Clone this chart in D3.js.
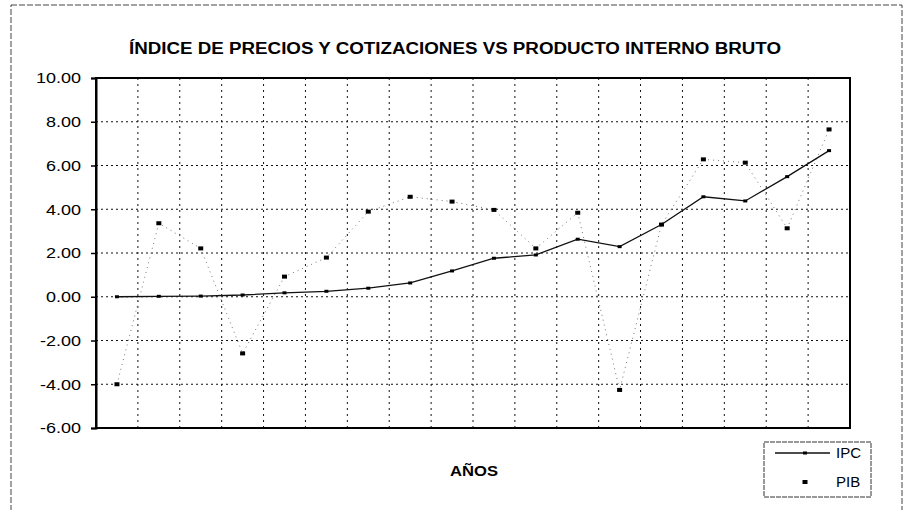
<!DOCTYPE html>
<html>
<head>
<meta charset="utf-8">
<script src="https://cdn.jsdelivr.net/npm/d3@7"></script>
<style>
  body { margin: 0; background: #fff; }
  svg { display: block; font-family: "Liberation Sans", Arial, sans-serif; }
</style>
</head>
<body>
<svg id="chart" width="908" height="510"></svg>
<script>
// 数据：18 个年度区间
const periodos = d3.range(1, 19).map(String);
const ipc = [0.00, 0.02, 0.03, 0.08, 0.18, 0.25, 0.39, 0.63, 1.18, 1.76, 1.91, 2.63, 2.29, 3.30, 4.57, 4.38, 5.49, 6.68];
const pib = [-4.00, 3.36, 2.21, -2.59, 0.92, 1.79, 3.89, 4.57, 4.35, 3.97, 2.21, 3.84, -4.26, 3.30, 6.28, 6.13, 3.13, 7.65];
const yTicks = [-6, -4, -2, 0, 2, 4, 6, 8, 10];

const svg = d3.select('#chart');
const plot = { left: 96, right: 850, top: 78, bottom: 428 };

// 外框
svg.append('rect')
  .attr('x', 11).attr('y', 5)
  .attr('width', 891).attr('height', 510)
  .attr('fill', 'none')
  .attr('stroke', '#444')
  .attr('stroke-width', 1)
  .attr('stroke-dasharray', '6,2');

const x = d3.scaleBand()
  .domain(periodos)
  .range([plot.left, plot.right])
  .padding(0);

const y = d3.scaleLinear()
  .domain([-6, 10])
  .range([plot.bottom, plot.top]);

const cx = d => x(d) + x.bandwidth() / 2;

// 横向网格线
svg.append('g')
  .selectAll('line')
  .data(yTicks.filter(t => t > -6 && t < 10))
  .enter()
  .append('line')
  .attr('x1', plot.left).attr('x2', plot.right)
  .attr('y1', d => y(d)).attr('y2', d => y(d))
  .attr('stroke', '#111')
  .attr('stroke-width', 1)
  .attr('stroke-dasharray', '2,3');

// 纵向网格线（类别边界）
svg.append('g')
  .selectAll('line')
  .data(periodos.slice(1))
  .enter()
  .append('line')
  .attr('x1', d => x(d)).attr('x2', d => x(d))
  .attr('y1', plot.top).attr('y2', plot.bottom)
  .attr('stroke', '#111')
  .attr('stroke-width', 1)
  .attr('stroke-dasharray', '2,4');

// 绘图区边框
svg.append('rect')
  .attr('x', plot.left).attr('y', plot.top)
  .attr('width', plot.right - plot.left)
  .attr('height', plot.bottom - plot.top)
  .attr('fill', 'none')
  .attr('stroke', '#000')
  .attr('stroke-width', 2);

// Y 轴
const yAxis = svg.append('g')
  .attr('transform', `translate(${plot.left},0)`)
  .call(d3.axisLeft(y).tickValues(yTicks).tickFormat(d => d.toFixed(2)).tickSize(5).tickPadding(7.5));
yAxis.select('.domain').attr('stroke-width', 2);
yAxis.selectAll('.tick line').attr('stroke-width', 1.5);
yAxis.selectAll('.tick text')
  .attr('font-size', 15)
  .attr('fill', '#000')
  .attr('transform', 'scale(1.2,1)');

// PIB：点线 + 方点
svg.append('path')
  .datum(pib)
  .attr('fill', 'none')
  .attr('stroke', '#777')
  .attr('stroke-width', 1)
  .attr('stroke-dasharray', '1,4')
  .attr('d', d3.line().x((d, i) => cx(periodos[i])).y(d => y(d)));

svg.append('g')
  .selectAll('rect')
  .data(pib)
  .enter()
  .append('rect')
  .attr('x', (d, i) => cx(periodos[i]) - 2.5)
  .attr('y', d => y(d) - 2)
  .attr('width', 5).attr('height', 4)
  .attr('fill', '#000');

// IPC：实线 + 小点
svg.append('path')
  .datum(ipc)
  .attr('fill', 'none')
  .attr('stroke', '#111')
  .attr('stroke-width', 1.3)
  .attr('d', d3.line().x((d, i) => cx(periodos[i])).y(d => y(d)));

svg.append('g')
  .selectAll('rect')
  .data(ipc)
  .enter()
  .append('rect')
  .attr('x', (d, i) => cx(periodos[i]) - 2)
  .attr('y', d => y(d) - 1.5)
  .attr('width', 4).attr('height', 3)
  .attr('fill', '#000');

// 标题
svg.append('text')
  .attr('x', 455).attr('y', 54)
  .attr('text-anchor', 'middle')
  .attr('font-size', 16)
  .attr('font-weight', 'bold')
  .attr('textLength', 652)
  .attr('lengthAdjust', 'spacingAndGlyphs')
  .text('ÍNDICE DE PRECIOS Y COTIZACIONES VS PRODUCTO INTERNO BRUTO');

// X 轴标题
svg.append('text')
  .attr('x', 474).attr('y', 476)
  .attr('text-anchor', 'middle')
  .attr('font-size', 15)
  .attr('font-weight', 'bold')
  .attr('textLength', 48)
  .attr('lengthAdjust', 'spacingAndGlyphs')
  .text('AÑOS');

// 图例
const legend = svg.append('g');
legend.append('rect')
  .attr('x', 764).attr('y', 442)
  .attr('width', 107).attr('height', 55)
  .attr('fill', '#fff')
  .attr('stroke', '#333')
  .attr('stroke-width', 1)
  .attr('stroke-dasharray', '5,1');
legend.append('line')
  .attr('x1', 775).attr('x2', 830)
  .attr('y1', 453).attr('y2', 453)
  .attr('stroke', '#111').attr('stroke-width', 1.3);
legend.append('rect')
  .attr('x', 803).attr('y', 451.5).attr('width', 4).attr('height', 3).attr('fill', '#000');
legend.append('rect')
  .attr('x', 802.5).attr('y', 480).attr('width', 5).attr('height', 4).attr('fill', '#000');
legend.append('text')
  .attr('x', 836).attr('y', 458)
  .attr('font-size', 15).text('IPC');
legend.append('text')
  .attr('x', 836).attr('y', 487)
  .attr('font-size', 15).text('PIB');
</script>
</body>
</html>
